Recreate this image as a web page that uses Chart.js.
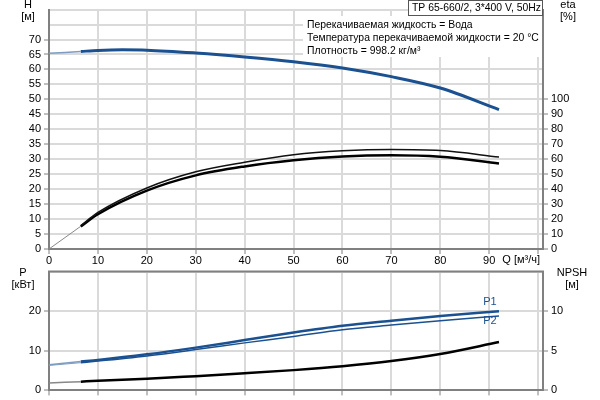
<!DOCTYPE html>
<html>
<head>
<meta charset="utf-8">
<script src="https://cdn.jsdelivr.net/npm/chart.js@4"></script>
<style>
  html, body { margin: 0; padding: 0; background: #fff; }
  #wrap { position: relative; width: 600px; height: 400px; overflow: hidden; }
  #top { position: absolute; left: 0; top: 0; }
  #bot { position: absolute; left: 0; top: 262px; }
</style>
</head>
<body>
<div id="wrap">
  <canvas id="top" width="600" height="276"></canvas>
  <canvas id="bot" width="600" height="138"></canvas>
</div>
<script>
// ---- data ----
const qStart = [0, 6.5];
const qMain = [6.5, 10, 20, 30, 40, 50, 60, 70, 80, 92];
const qHead = [6.5, 10, 15, 20, 30, 40, 50, 60, 70, 80, 92];

const headStart = [65.4, 66.0];
const headMain = [66.0, 66.35, 66.55, 66.45, 65.5, 64.2, 62.6, 60.5, 57.6, 53.8, 46.6];

const etaStart = [0, 15.2];
const eta1Main = [15.6, 24.4, 40.8, 51.6, 58.0, 63.0, 65.6, 66.5, 65.8, 61.5];
const eta2Main = [15.0, 23.2, 39.0, 49.2, 55.2, 59.3, 61.8, 62.6, 61.6, 57.2];

const p1Start = [6.5, 7.3];
const p1Main = [7.3, 7.7, 9.1, 10.8, 12.7, 14.6, 16.3, 17.6, 18.8, 20.0];
const p2Start = [6.3, 7.0];
const p2Main = [7.0, 7.4, 8.7, 10.3, 12.0, 13.6, 15.3, 16.5, 17.6, 18.8];

const npshStart = [0.95, 1.1];
const npshMain = [1.1, 1.22, 1.46, 1.8, 2.16, 2.56, 3.05, 3.7, 4.6, 6.1];

const xTicksLabelMax = 90;
const hLabelMax = 70;
const etaLabelMax = 100;
const pLabelMax = 20;
const npshLabelMax = 10;

const titleText = 'TP 65-660/2, 3*400 V, 50Hz';
const infoLines = [
  'Перекачиваемая жидкость = Вода',
  'Температура перекачиваемой жидкости = 20 °C',
  'Плотность = 998.2 кг/м³'
];

// ---- helpers ----
const pts = (xs, ys) => xs.map((x, i) => ({ x: x, y: ys[i] }));
const FONT = 'Arial, "Liberation Sans", sans-serif';
const BLUE = '#1b5190';
const BLUE_LIGHT = '#7d9cc0';
const GRID = '#dadada';
const AXIS = '#808080';

Chart.defaults.font.family = FONT;
Chart.defaults.font.size = 11;
Chart.defaults.color = '#000';

function line(data, color, width, yAxisID) {
  return {
    data: data, borderColor: color, borderWidth: width, yAxisID: yAxisID,
    pointRadius: 0, cubicInterpolationMode: 'monotone', fill: false, clip: false
  };
}

function xScale(showLabels) {
  return {
    type: 'linear', min: 0, max: 101,
    border: { color: AXIS, width: 2 },
    grid: { color: GRID, lineWidth: 2, tickLength: 5, tickColor: AXIS, tickWidth: 1 },
    ticks: {
      display: showLabels, stepSize: 10, includeBounds: false, autoSkip: false,
      maxRotation: 0, padding: 0,
      callback: v => (v <= xTicksLabelMax ? v : '')
    },
    afterFit: s => { s.height = showLabels ? 27 : 9; }
  };
}

function yScale(pos, max, step, labelMax, width, drawGrid) {
  return {
    type: 'linear', position: pos, min: 0, max: max,
    border: { color: AXIS, width: 2 },
    grid: {
      drawOnChartArea: drawGrid, color: GRID, lineWidth: 2, tickLength: 5, tickWidth: 1,
      tickColor: ctx => (ctx.tick && ctx.tick.value > labelMax ? 'rgba(0,0,0,0)' : AXIS)
    },
    ticks: {
      stepSize: step, includeBounds: false, autoSkip: false, padding: 3,
      callback: v => (v <= labelMax ? v : '')
    },
    afterFit: s => { s.width = width; }
  };
}

function textAt(ctx, txt, x, y, align, color, size) {
  ctx.save();
  ctx.font = (size || 11) + 'px ' + FONT;
  ctx.fillStyle = color || '#000';
  ctx.textAlign = align || 'center';
  ctx.textBaseline = 'middle';
  ctx.fillText(txt, x, y);
  ctx.restore();
}

// ---- top chart ----
const topPlugin = {
  id: 'topDeco',
  beforeDatasetsDraw(chart) {
    const ctx = chart.ctx;
    ctx.save();
    ctx.fillStyle = '#fff';
    ctx.fillRect(303, 16, 239, 41);
    ctx.restore();
  },
  afterDraw(chart) {
    const ctx = chart.ctx;
    textAt(ctx, 'H', 28, 5);
    textAt(ctx, '[м]', 28, 17);
    textAt(ctx, 'eta', 568, 5);
    textAt(ctx, '[%]', 568, 17);
    textAt(ctx, 'Q [м³/ч]', 540, 260, 'right');
    infoLines.forEach((t, i) => textAt(ctx, t, 307, 25 + i * 13, 'left', '#000', 10.4));
    ctx.save();
    ctx.fillStyle = '#fff';
    ctx.fillRect(408, 0, 135, 15);
    ctx.strokeStyle = '#555';
    ctx.lineWidth = 1;
    ctx.strokeRect(408.5, 0.5, 134, 15);
    ctx.restore();
    textAt(ctx, titleText, 412, 8, 'left', '#000', 10.4);
  }
};

new Chart(document.getElementById('top'), {
  type: 'line',
  data: {
    datasets: [
      line(pts(qStart, headStart), BLUE_LIGHT, 1.5, 'y'),
      line(pts(qHead, headMain), BLUE, 3, 'y'),
      line(pts(qStart, etaStart), '#888', 1, 'y2'),
      line(pts(qMain, eta1Main), '#111', 1.5, 'y2'),
      line(pts(qMain, eta2Main), '#000', 2.5, 'y2')
    ]
  },
  options: {
    responsive: false, animation: false,
    layout: { padding: { top: 0, bottom: 0, left: 0, right: 0 } },
    plugins: { legend: { display: false }, tooltip: { enabled: false } },
    scales: {
      x: xScale(true),
      y: yScale('left', 80, 5, hLabelMax, 49, true),
      y2: yScale('right', 160, 10, etaLabelMax, 57, false)
    }
  },
  plugins: [topPlugin]
});

// ---- bottom chart ----
const botPlugin = {
  id: 'botDeco',
  afterDraw(chart) {
    const ctx = chart.ctx;
    const a = chart.chartArea;
    ctx.save();
    ctx.strokeStyle = AXIS;
    ctx.lineWidth = 2;
    ctx.beginPath();
    ctx.moveTo(a.left - 1, a.top);
    ctx.lineTo(a.right + 1, a.top);
    ctx.stroke();
    ctx.restore();
    textAt(ctx, 'P', 23, 11);
    textAt(ctx, '[кВт]', 23, 23);
    textAt(ctx, 'NPSH', 572, 11);
    textAt(ctx, '[м]', 572, 23);
    textAt(ctx, 'P1', 490, 40, 'center', BLUE);
    textAt(ctx, 'P2', 490, 59, 'center', BLUE);
  }
};

new Chart(document.getElementById('bot'), {
  type: 'line',
  data: {
    datasets: [
      line(pts(qStart, p1Start), BLUE_LIGHT, 1.5, 'y'),
      line(pts(qStart, p2Start), BLUE_LIGHT, 1, 'y'),
      line(pts(qMain, p1Main), BLUE, 2.5, 'y'),
      line(pts(qMain, p2Main), BLUE, 1.5, 'y'),
      line(pts(qStart, npshStart), '#888', 1.5, 'y2'),
      line(pts(qMain, npshMain), '#000', 2.5, 'y2')
    ]
  },
  options: {
    responsive: false, animation: false,
    layout: { padding: { top: 6, bottom: 0, left: 0, right: 0 } },
    plugins: { legend: { display: false }, tooltip: { enabled: false } },
    scales: {
      x: xScale(false),
      y: yScale('left', 30, 10, pLabelMax, 49, true),
      y2: yScale('right', 15, 5, npshLabelMax, 57, false)
    }
  },
  plugins: [botPlugin]
});
</script>
</body>
</html>
